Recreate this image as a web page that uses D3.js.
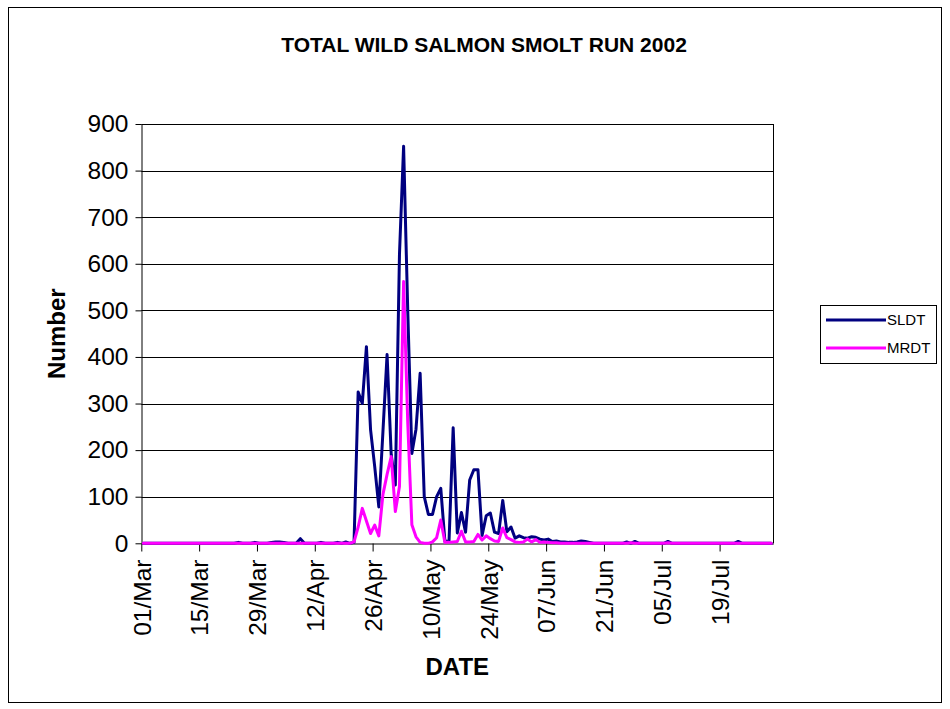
<!DOCTYPE html>
<html>
<head>
<meta charset="utf-8">
<script src="https://cdn.jsdelivr.net/npm/d3@7"></script>
<style>
  html, body { margin: 0; padding: 0; background: #fff; }
  svg { display: block; font-family: "Liberation Sans", Arial, sans-serif; }
</style>
</head>
<body>
<svg id="chart" width="950" height="709"></svg>
<script>
// Daily counts, 01 Mar – 31 Jul 2002 (one value per day, rows of 14 days)
const seasonStart = "2002-03-01";
const seasonEnd = "2002-08-01";

const sldt = [
  0, 0, 0, 0, 0, 0, 0, 0, 0, 0, 0, 0, 0, 0,
  0, 0, 0, 0, 0, 0, 0, 0, 0, 2, 0, 0, 0, 2,
  0, 0, 0, 2, 3, 3, 2, 0, 0, 0, 10, 0, 0, 0,
  0, 2, 0, 0, 0, 2, 0, 3, 0, 2, 325, 300, 422, 244,
  165, 78, 240, 405, 190, 125, 620, 852, 500, 193, 245, 365, 100, 62,
  62, 100, 118, 4, 5, 248, 22, 66, 24, 136, 158, 158, 17, 59,
  65, 24, 21, 92, 25, 35, 11, 16, 12, 11, 14, 13, 9, 7,
  9, 4, 5, 3, 3, 2, 2, 3, 5, 4, 2, 0, 0, 0,
  0, 0, 0, 0, 0, 3, 0, 4, 0, 0, 0, 0, 0, 0,
  0, 4, 0, 0, 0, 0, 0, 0, 0, 0, 0, 0, 0, 0,
  0, 0, 0, 0, 4, 0, 0, 0, 0, 0, 0, 0, 0
];

const mrdt = [
  0, 0, 0, 0, 0, 0, 0, 0, 0, 0, 0, 0, 0, 0,
  0, 0, 0, 0, 0, 0, 0, 0, 0, 0, 0, 0, 0, 0,
  0, 0, 0, 0, 0, 0, 0, 0, 0, 0, 0, 0, 0, 0,
  0, 0, 0, 0, 0, 0, 0, 0, 0, 3, 35, 75, 48, 21,
  39, 16, 105, 148, 186, 68, 122, 562, 260, 40, 14, 2, 0, 0,
  3, 12, 50, 2, 2, 3, 4, 26, 3, 3, 4, 19, 7, 16,
  10, 5, 4, 33, 12, 8, 3, 2, 3, 9, 3, 8, 2, 3,
  2, 1, 1, 0, 0, 0, 0, 0, 0, 0, 0, 0, 0, 0,
  0, 0, 0, 0, 0, 0, 1, 0, 0, 0, 0, 0, 0, 0,
  0, 1, 0, 0, 0, 0, 0, 0, 0, 0, 0, 0, 0, 0,
  0, 0, 0, 0, 0, 0, 0, 0, 0, 0, 0, 0, 0
];

const seriesNames = ["SLDT", "MRDT"];
const seriesColors = ["#000080", "#FF00FF"];

const xTickLabels = ["01/Mar", "15/Mar", "29/Mar", "12/Apr", "26/Apr", "10/May",
                     "24/May", "07/Jun", "21/Jun", "05/Jul", "19/Jul"];
const yTicks = [0, 100, 200, 300, 400, 500, 600, 700, 800, 900];

const titleText = "TOTAL WILD SALMON SMOLT RUN 2002";
const xTitle = "DATE";
const yTitle = "Number";

// ---- layout ----
const plot = { left: 141.3, right: 773.3, top: 124, bottom: 543.3 };

const parseIso = d3.utcParse("%Y-%m-%d");
const parseTick = d3.utcParse("%d/%b/%Y");
const start = parseIso(seasonStart);
const end = parseIso(seasonEnd);

// each day's point sits in the middle of its day slot
const dayDate = i => new Date(start.getTime() + (i + 0.5) * 864e5);

const x = d3.scaleUtc().domain([start, end]).range([plot.left, plot.right]);
const y = d3.scaleLinear().domain([0, 900]).range([plot.bottom, plot.top]);

const svg = d3.select("#chart");

// chart frame
svg.append("rect")
  .attr("x", 8.5).attr("y", 7.5)
  .attr("width", 933).attr("height", 695)
  .attr("fill", "#fff").attr("stroke", "#000").attr("stroke-width", 1);

// horizontal gridlines
svg.append("g")
  .selectAll("line")
  .data(yTicks.filter(v => v > 0))
  .join("line")
  .attr("x1", plot.left).attr("x2", plot.right)
  .attr("y1", d => Math.round(y(d)) + 0.5).attr("y2", d => Math.round(y(d)) + 0.5)
  .attr("stroke", "#000").attr("stroke-width", 1);

// right edge of plot area
svg.append("line")
  .attr("x1", Math.round(plot.right) + 0.5).attr("x2", Math.round(plot.right) + 0.5)
  .attr("y1", plot.top).attr("y2", plot.bottom)
  .attr("stroke", "#000");

// y axis
const yAxis = svg.append("g")
  .attr("transform", `translate(${Math.round(plot.left) + 0.5},0)`)
  .call(d3.axisLeft(y).tickValues(yTicks).tickSize(6).tickPadding(7).tickSizeOuter(0));
yAxis.selectAll("text")
  .attr("font-size", "24.5px").attr("fill", "#000")
  .attr("font-family", "'Liberation Sans', Arial, sans-serif");
yAxis.selectAll("line, path").attr("stroke", "#000");

// x axis
const xTickDates = xTickLabels.map(s => parseTick(s + "/2002"));
const xAxis = svg.append("g")
  .attr("transform", `translate(0,${Math.round(plot.bottom) + 0.5})`)
  .call(d3.axisBottom(x).tickValues(xTickDates).tickSize(8).tickSizeOuter(0)
    .tickFormat((d, i) => xTickLabels[i]));
xAxis.selectAll("line, path").attr("stroke", "#000");
xAxis.selectAll("text")
  .attr("font-size", "24.5px").attr("fill", "#000")
  .attr("font-family", "'Liberation Sans', Arial, sans-serif")
  .attr("transform", "rotate(-90)")
  .attr("text-anchor", "end")
  .attr("x", -16).attr("y", 0).attr("dy", "0.36em");

// series lines
const line = d3.line()
  .x((d, i) => x(dayDate(i)))
  .y(d => y(d));

[sldt, mrdt].forEach((values, k) => {
  svg.append("path")
    .datum(values)
    .attr("d", line)
    .attr("fill", "none")
    .attr("stroke", seriesColors[k])
    .attr("stroke-width", 3)
    .attr("stroke-linejoin", "round")
    .attr("stroke-linecap", "round");
});

// title
svg.append("text")
  .attr("x", 484).attr("y", 52)
  .attr("text-anchor", "middle")
  .attr("font-size", "21px").attr("font-weight", "bold")
  .text(titleText);

// axis titles
svg.append("text")
  .attr("x", (plot.left + plot.right) / 2).attr("y", 675)
  .attr("text-anchor", "middle")
  .attr("font-size", "24px").attr("font-weight", "bold")
  .text(xTitle);

svg.append("text")
  .attr("transform", `translate(57,${(plot.top + plot.bottom) / 2}) rotate(-90)`)
  .attr("text-anchor", "middle").attr("dy", "0.35em")
  .attr("font-size", "24px").attr("font-weight", "bold")
  .text(yTitle);

// legend
const legend = svg.append("g");
legend.append("rect")
  .attr("x", 820.5).attr("y", 305.5)
  .attr("width", 116).attr("height", 58)
  .attr("fill", "#fff").attr("stroke", "#000");
seriesNames.forEach((name, k) => {
  const ly = 320 + k * 28;
  legend.append("line")
    .attr("x1", 826).attr("x2", 886)
    .attr("y1", ly).attr("y2", ly)
    .attr("stroke", seriesColors[k]).attr("stroke-width", 3);
  legend.append("text")
    .attr("x", 887).attr("y", ly).attr("dy", "0.36em")
    .attr("font-size", "15px")
    .text(name);
});
</script>
</body>
</html>
